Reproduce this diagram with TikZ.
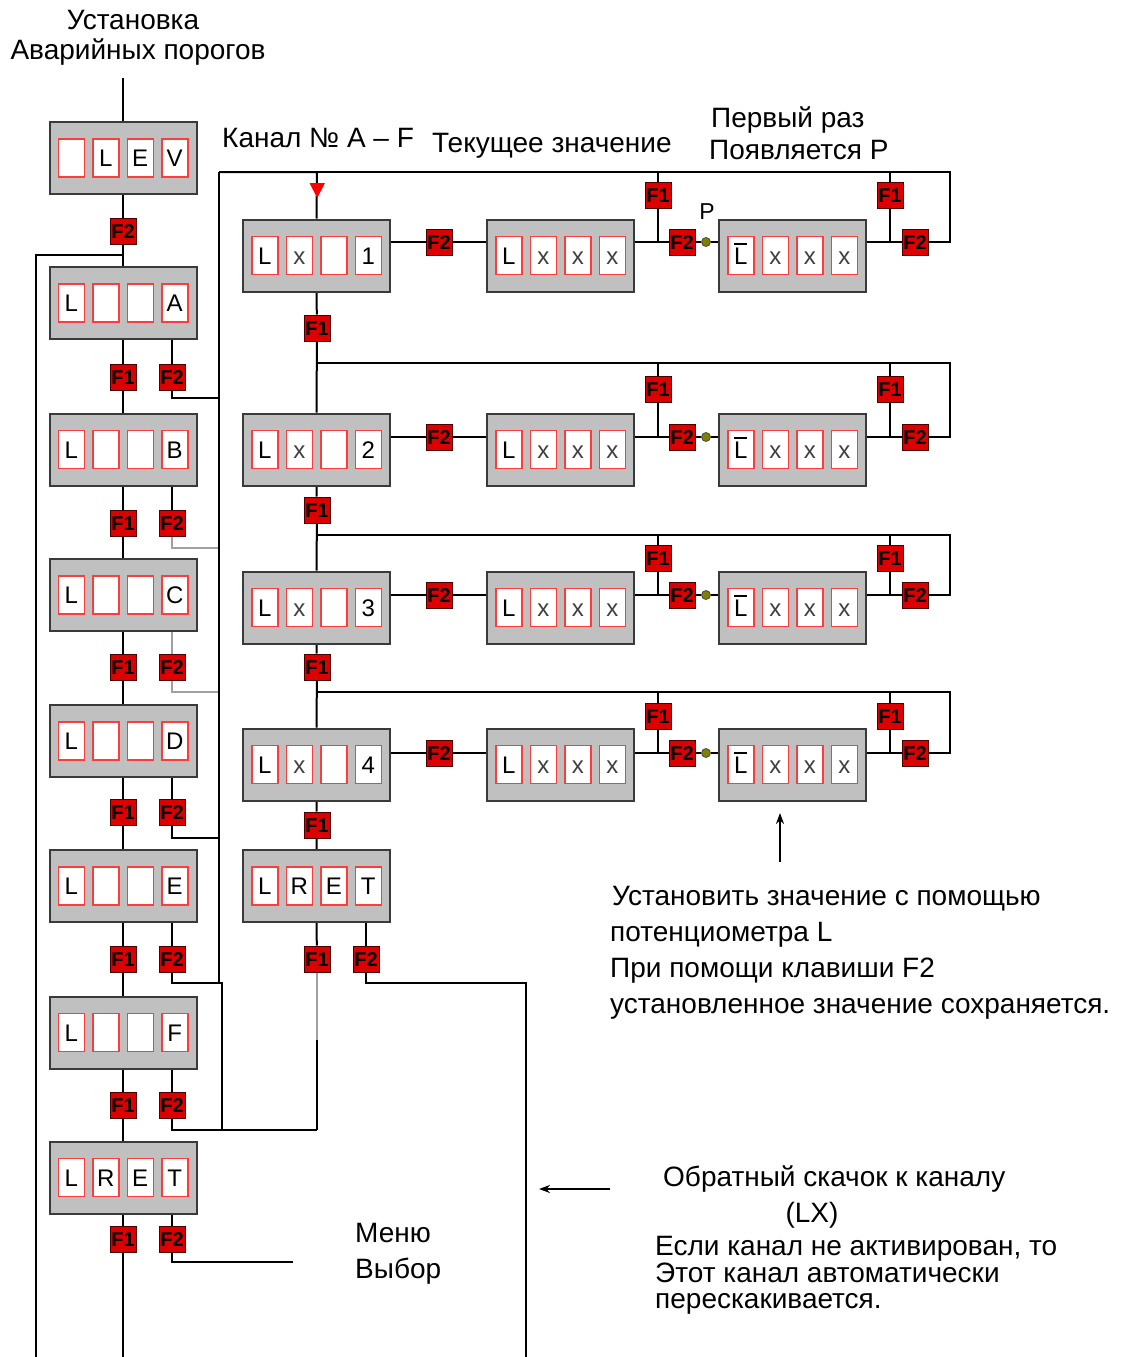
\documentclass[tikz,border=0pt]{standalone}
\usepackage{fontspec}
\setmainfont{Liberation Sans}
\usetikzlibrary{arrows.meta}
\pgfdeclarelayer{background}
\pgfsetlayers{background,main}
\definecolor{panelgrey}{HTML}{C0C0C0}
\definecolor{panelline}{HTML}{3A3A3A}
\definecolor{cellred}{HTML}{FF3C3C}
\definecolor{keyred}{HTML}{DC0000}
\definecolor{keyline}{HTML}{4A0000}
\definecolor{dotolive}{HTML}{7F7F00}
\definecolor{wiregrey}{HTML}{A0A0A0}
\definecolor{xgrey}{HTML}{404040}
\newcommand{\ovl}[1]{\leavevmode\vbox{\hrule height 2pt\kern 2pt\hbox{#1}}}
\newcommand{\xx}{\textcolor{xgrey}{x}}
\newcommand{\dpanel}[6]{%
  \node[panel] (#1) at #2 {};
  \node[cell] (#1-1) at ([xshift=-51.75pt]#1.center) {#3};
  \node[cell] (#1-2) at ([xshift=-17.25pt]#1.center) {#4};
  \node[cell] (#1-3) at ([xshift=17.25pt]#1.center) {#5};
  \node[cell] (#1-4) at ([xshift=51.75pt]#1.center) {#6};
}
\begin{document}
\begin{tikzpicture}[x=1pt,y=-1pt,
  panel/.style={rectangle,fill=panelgrey,draw=panelline,line width=2pt,minimum width=147pt,minimum height=72pt,inner sep=0pt},
  cell/.style={rectangle,fill=white,draw=cellred,line width=1.5pt,minimum width=26pt,minimum height=38pt,inner sep=0pt,text height=17pt,text depth=0pt,font=\fontsize{24}{24}\selectfont},
  key/.style={rectangle,fill=keyred,draw=keyline,line width=1pt,minimum size=26pt,inner sep=0pt,text height=14pt,text depth=0pt,font=\bfseries\fontsize{20}{20}\selectfont},
  dot/.style={circle,fill=dotolive,draw=black!70,line width=0.8pt,minimum size=9pt,inner sep=0pt},
  wire/.style={draw=black,line width=2pt},
  wiregr/.style={draw=wiregrey,line width=2pt},
  lbl/.style={inner sep=0pt,font=\fontsize{28}{30}\selectfont},
  arr/.style={draw=black,line width=2pt,-{Stealth[length=11pt,width=8pt]}}
]
\useasboundingbox (0,0) rectangle (1128,1357);

% ---------- left column ----------
\dpanel{LEV}{(123,158)}{}{L}{E}{V}
\dpanel{PA}{(123,303)}{L}{}{}{A}
\dpanel{PB}{(123,449.5)}{L}{}{}{B}
\dpanel{PC}{(123,595)}{L}{}{}{C}
\dpanel{PD}{(123,741)}{L}{}{}{D}
\dpanel{PE}{(123,886)}{L}{}{}{E}
\dpanel{PF}{(123,1032.5)}{L}{}{}{F}
\dpanel{PR}{(123,1177.5)}{L}{R}{E}{T}
\node[key] (g0) at (123,231) {F2};
\foreach \n/\y in {A/377,B/523,C/667,D/812,E/959,F/1105,R/1239} {
  \node[key] (k\n1) at (123,\y) {F1};
  \node[key] (k\n2) at (172,\y) {F2};
}
\coordinate (topin) at (123,78);
\coordinate (lbottom) at (36,1357);
\coordinate (cbottom) at (123,1357);
\coordinate (menuend) at (293,1262);

% ---------- channel column ----------
\dpanel{X1}{(316.5,255.5)}{L}{\xx}{}{1}
\dpanel{X2}{(316.5,449.5)}{L}{\xx}{}{2}
\dpanel{X3}{(316.5,607.5)}{L}{\xx}{}{3}
\dpanel{X4}{(316.5,764.5)}{L}{\xx}{}{4}
\dpanel{XR}{(316.5,886)}{L}{R}{E}{T}
\node[key] (m1) at (317,328) {F1};
\node[key] (m2) at (317,510) {F1};
\node[key] (m3) at (317,667) {F1};
\node[key] (m4) at (317,825) {F1};
\node[key] (n1) at (317,959) {F1};
\node[key] (n2) at (366,959) {F2};
\coordinate (rbottom) at (526,1357);

\begin{pgfonlayer}{background}
  \draw[wire] (topin) -- (LEV.north);
  \draw[wire] (LEV.south) -- (g0) -- (PA.north);
  \draw[wire] (g0 |- 0,255) -- (36,255) -- (lbottom);
  \draw[wire] (PA.south) -- (kA1) -- (PB.north);
  \draw[wire] (PB.south) -- (kB1) -- (PC.north);
  \draw[wire] (PC.south) -- (kC1) -- (PD.north);
  \draw[wire] (PD.south) -- (kD1) -- (PE.north);
  \draw[wire] (PE.south) -- (kE1) -- (PF.north);
  \draw[wire] (PF.south) -- (kF1) -- (PR.north);
  \draw[wire] (PR.south) -- (kR1) -- (cbottom);
  \draw[wire] (PA.south -| kA2) -- (kA2) -- (kA2 |- 0,398) -- (219,398);
  \draw[wire] (PB.south -| kB2) -- (kB2);
  \draw[wiregr] (kB2) -- (kB2 |- 0,548) -- (219,548);
  \draw[wiregr] (PC.south -| kC2) -- (kC2) -- (kC2 |- 0,692) -- (219,692);
  \draw[wire] (PD.south -| kD2) -- (kD2) -- (kD2 |- 0,838) -- (219,838);
  \draw[wire] (PE.south -| kE2) -- (kE2) -- (kE2 |- 0,983) -- (219,983);
  \draw[wire] (PF.south -| kF2) -- (kF2) -- (kF2 |- 0,1130) -- (317,1130);
  \draw[wire] (PR.south -| kR2) -- (kR2) -- (kR2 |- 0,1262) -- (menuend);
  \draw[wire] (219,172) -- (219,983) -- (222,983) -- (222,1130);
  \draw[wire] (219,172) -- (317,172) -- (X1.north);
  \draw[wire] (X1.south) -- (m1) -- (X2.north);
  \draw[wire] (X2.south) -- (m2) -- (X3.north);
  \draw[wire] (X3.south) -- (m3) -- (X4.north);
  \draw[wire] (X4.south) -- (m4) -- (XR.north);
  \draw[wire] (XR.south) -- (n1);
  \draw[wiregr] (n1) -- (317,1040);
  \draw[wire] (317,1040) -- (317,1130);
  \draw[wire] (XR.south -| n2) -- (n2) -- (n2 |- 0,983) -- (526,983) -- (rbottom);
\end{pgfonlayer}
\fill[red] (309.5,183) -- (325,183) -- (317.25,198) -- cycle;

% ---------- rows ----------
\foreach \i/\t/\f/\l/\c in {1/172/195/242/255.5, 2/363/389/437/449.5, 3/535/558/595/607.5, 4/692/716/753/764.5} {
  \dpanel{V\i}{(560.5,\c)}{L}{\xx}{\xx}{\xx}
  \dpanel{W\i}{(792.5,\c)}{\ovl{L}}{\xx}{\xx}{\xx}
  \node[key] (a\i) at (439,\l) {F2};
  \node[key] (b\i) at (658,\f) {F1};
  \node[key] (c\i) at (682,\l) {F2};
  \node[dot] (p\i) at (706,\l) {};
  \node[key] (d\i) at (890,\f) {F1};
  \node[key] (e\i) at (915,\l) {F2};
  \begin{pgfonlayer}{background}
    \draw[wire] (X\i.east |- a\i) -- (a\i) -- (V\i.west |- a\i);
    \draw[wire] (V\i.east |- c\i) -- (c\i) -- (p\i) -- (W\i.west |- p\i);
    \draw[wire] (b\i |- 0,\t) -- (b\i) -- (b\i |- c\i);
    \draw[wire] (d\i |- 0,\t) -- (d\i) -- (d\i |- e\i);
    \draw[wire] (W\i.east |- e\i) -- (e\i) -- (950,\l) -- (950,\t) -- (317,\t);
  \end{pgfonlayer}
}

% ---------- labels ----------
\node[lbl,anchor=base] (t1) at (133,29) {Установка};
\node[lbl,anchor=base] (t2) at (138,59) {Аварийных порогов};
\node[lbl,anchor=base west] (t3) at (222,147) {Канал № A – F};
\node[lbl,anchor=base west] (t4) at (432,152) {Текущее значение};
\node[lbl,anchor=base west] (t5) at (711,127) {Первый раз};
\node[lbl,anchor=base west] (t6) at (709,159) {Появляется P};
\node[inner sep=0pt,font=\fontsize{23}{23}\selectfont] (plab) at (707,212) {P};
\node[lbl,anchor=base west] (t7) at (612,905) {Установить значение с помощью};
\node[lbl,anchor=base west] (t8) at (610,941) {потенциометра L};
\node[lbl,anchor=base west] (t9) at (610,977) {При помощи клавиши F2};
\node[lbl,anchor=base west] (t10) at (610,1013) {установленное значение сохраняется.};
\node[lbl,anchor=base west] (t11) at (663,1186) {Обратный скачок к каналу};
\node[lbl,anchor=base] (t12) at (812,1222) {(LX)};
\node[lbl,anchor=base west] (t13) at (655,1255) {Если канал не активирован, то};
\node[lbl,anchor=base west] (t14) at (655,1282) {Этот канал автоматически};
\node[lbl,anchor=base west] (t15) at (655,1308) {перескакивается.};
\node[lbl,anchor=base west] (t16) at (355,1242) {Меню};
\node[lbl,anchor=base west] (t17) at (355,1278) {Выбор};

\coordinate (a1s) at (780,862);
\coordinate (a1e) at (780,813);
\coordinate (a2s) at (610,1189);
\coordinate (a2e) at (539,1189);
\draw[arr] (a1s) -- (a1e);
\draw[arr] (a2s) -- (a2e);
\end{tikzpicture}
\end{document}
